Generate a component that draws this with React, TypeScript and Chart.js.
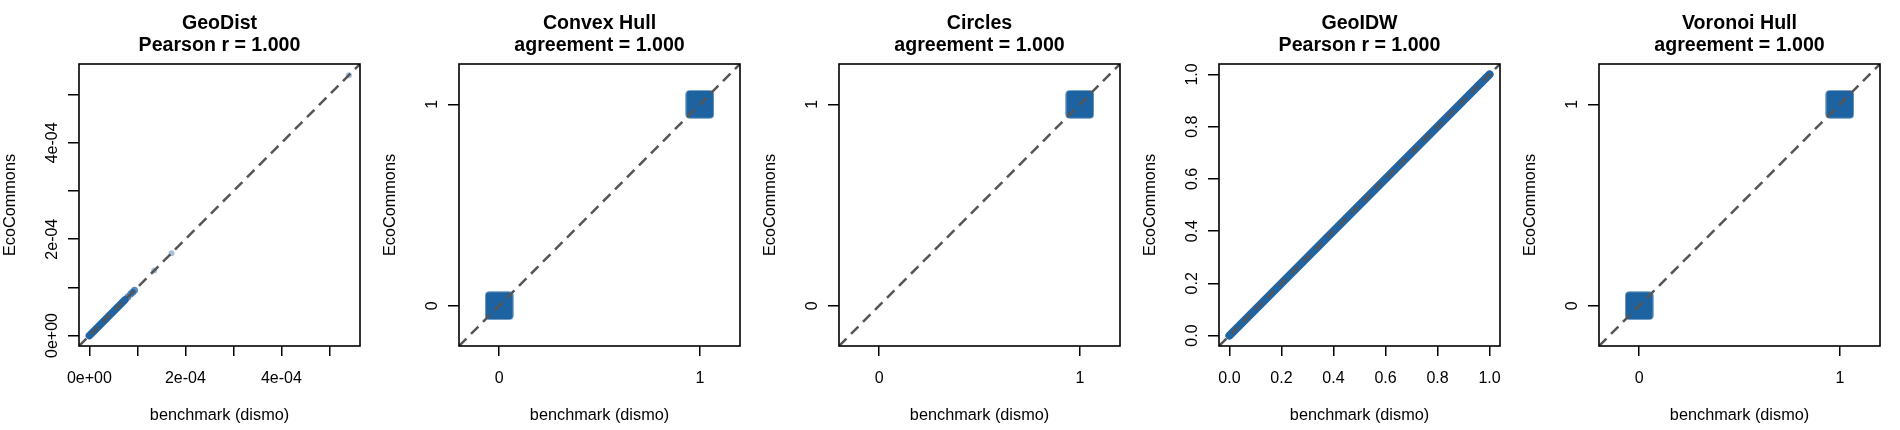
import React, { useEffect, useRef } from "react";
import { Chart, registerables } from "chart.js";

Chart.register(...registerables);

// ---------- text ----------
const panelTitles = ["GeoDist", "Convex Hull", "Circles", "GeoIDW", "Voronoi Hull"];
const panelStats = [
  "Pearson r = 1.000",
  "agreement = 1.000",
  "agreement = 1.000",
  "Pearson r = 1.000",
  "agreement = 1.000",
];
const xAxisTitle = "benchmark (dismo)";
const yAxisTitle = "EcoCommons";

// ---------- GeoDist (continuous) ----------
const geoDistRange = [-0.0000217, 0.0005637];
const geoDistTicks = [0, 0.0001, 0.0002, 0.0003, 0.0004, 0.0005];
const geoDistTickLabels = ["0e+00", "", "2e-04", "", "4e-04", ""];
const geoDistBandX = [0, 0.000074]; // extent of the dense cloud
const geoDistMidX = [0.00008, 0.000086, 0.00009, 0.000094];
const geoDistSparseX = [0.000135, 0.000171, 0.0005405];

// ---------- binary panels ----------
const binaryRange = [-0.2, 1.2];
const binaryTicks = [0, 1];
const binaryTickLabels = ["0", "1"];
const convexHullClasses = [0, 1];
const circlesClasses = [1];
const voronoiHullClasses = [0, 1];

// ---------- GeoIDW (continuous) ----------
const geoIdwRange = [-0.04, 1.04];
const geoIdwTicks = [0, 0.2, 0.4, 0.6, 0.8, 1.0];
const geoIdwTickLabels = ["0.0", "0.2", "0.4", "0.6", "0.8", "1.0"];
const geoIdwBandX = [0, 1];

// ---------- styling ----------
const FONT = "'Liberation Sans', Arial, Helvetica, sans-serif";
const BLUE = "#2064a3";
const SQUARE_BLUE = "#1e63a1";
const REF_GREY = "#555555";
const PANEL_W = 380;
const PANEL_H = 430;

Chart.defaults.font.family = FONT;
Chart.defaults.color = "#000";

function makeSquare(): HTMLCanvasElement {
  const c = document.createElement("canvas");
  c.width = 29;
  c.height = 29;
  const g = c.getContext("2d")!;
  g.fillStyle = SQUARE_BLUE;
  g.beginPath();
  (g as any).roundRect(0.5, 0.5, 28, 28, 4);
  g.fill();
  return c;
}

type PanelSpec = {
  title: string;
  stat: string;
  range: number[];
  ticks: number[];
  tickLabels: string[];
  datasets: any[];
};

function refLine(range: number[]) {
  return {
    type: "line",
    data: [
      { x: range[0], y: range[0] },
      { x: range[1], y: range[1] },
    ],
    borderColor: REF_GREY,
    borderWidth: 2.5,
    borderDash: [10.5, 6.5],
    pointRadius: 0,
    fill: false,
    clip: 0,
  };
}

function bandLine(xs: number[], width: number) {
  return {
    type: "line",
    data: xs.map((v) => ({ x: v, y: v })),
    borderColor: BLUE,
    borderWidth: width,
    borderCapStyle: "round",
    pointRadius: 0,
    fill: false,
    clip: 0,
  };
}

function pointSet(xs: number[], color: string, r: number) {
  return {
    type: "scatter",
    data: xs.map((v) => ({ x: v, y: v })),
    backgroundColor: color,
    borderWidth: 0,
    pointRadius: r,
    clip: 0,
  };
}

function squareSet(classes: number[], img: HTMLCanvasElement) {
  return {
    type: "scatter",
    data: classes.map((v) => ({ x: v, y: v })),
    pointStyle: img,
    pointRadius: 14,
    backgroundColor: SQUARE_BLUE,
    borderWidth: 0,
    clip: 0,
  };
}

const framePlugin = {
  id: "frameAndYLabels",
  afterDraw(chart: any, _args: any, opts: any) {
    const { ctx, chartArea } = chart;
    const ys = chart.scales.y;
    ctx.save();
    ctx.strokeStyle = "#000";
    ctx.lineWidth = 1.6;
    ctx.strokeRect(
      chartArea.left,
      chartArea.top,
      chartArea.right - chartArea.left,
      chartArea.bottom - chartArea.top
    );
    ctx.fillStyle = "#000";
    ctx.font = `16px ${FONT}`;
    ctx.textAlign = "center";
    ctx.textBaseline = "alphabetic";
    const vals: number[] = opts.values;
    const labs: string[] = opts.labels;
    vals.forEach((v, i) => {
      if (!labs[i]) return;
      const py = ys.getPixelForValue(v);
      ctx.save();
      ctx.translate(57, py);
      ctx.rotate(-Math.PI / 2);
      ctx.fillText(labs[i], 0, 0);
      ctx.restore();
    });
    ctx.restore();
  },
};

function Panel({ spec }: { spec: PanelSpec }) {
  const ref = useRef<HTMLCanvasElement | null>(null);
  useEffect(() => {
    if (!ref.current) return;
    const { range, ticks, tickLabels } = spec;
    const setTicks = (scale: any) => {
      scale.ticks = ticks.map((v) => ({ value: v }));
    };
    const chart = new Chart(ref.current, {
      type: "scatter",
      data: { datasets: spec.datasets },
      plugins: [framePlugin],
      options: {
        animation: false,
        responsive: false,
        events: [],
        layout: { padding: { left: 0, right: 20, top: 0, bottom: 0 } },
        plugins: {
          legend: { display: false },
          tooltip: { enabled: false },
          title: {
            display: true,
            text: [spec.title, spec.stat],
            color: "#000",
            fullSize: false,
            font: { size: 19.6, weight: "bold", lineHeight: 22 / 19.6, family: FONT },
            padding: { top: 13, bottom: 7 },
          },
          frameAndYLabels: { values: ticks, labels: tickLabels },
        } as any,
        scales: {
          x: {
            type: "linear",
            min: range[0],
            max: range[1],
            afterBuildTicks: setTicks,
            afterFit: (s: any) => {
              s.height = 84;
            },
            border: { display: false },
            grid: {
              display: true,
              drawOnChartArea: false,
              drawTicks: true,
              tickLength: 10,
              color: "#000",
              lineWidth: 1.5,
              tickWidth: 1.5,
            },
            ticks: {
              autoSkip: false,
              maxRotation: 0,
              minRotation: 0,
              padding: 13,
              color: "#000",
              font: { size: 16, family: FONT },
              callback: (_v: any, i: number) => tickLabels[i],
            },
            title: {
              display: true,
              text: xAxisTitle,
              color: "#000",
              font: { size: 16.3, family: FONT },
              padding: { top: 0, bottom: 4.9 },
            },
          },
          y: {
            type: "linear",
            min: range[0],
            max: range[1],
            afterBuildTicks: setTicks,
            afterFit: (s: any) => {
              s.width = 79;
            },
            border: { display: false },
            grid: {
              display: true,
              drawOnChartArea: false,
              drawTicks: true,
              tickLength: 11,
              color: "#000",
              lineWidth: 1.5,
              tickWidth: 1.5,
            },
            ticks: { display: false },
            title: {
              display: true,
              text: yAxisTitle,
              color: "#000",
              font: { size: 16.3, family: FONT },
              padding: { top: 0.5, bottom: 0 },
            },
          },
        },
      } as any,
    });
    return () => chart.destroy();
  }, [spec]);
  return (
    <canvas
      ref={ref}
      width={PANEL_W}
      height={PANEL_H}
      style={{ width: PANEL_W, height: PANEL_H, display: "block" }}
    />
  );
}

export default function App() {
  const specs = React.useMemo<PanelSpec[]>(() => {
    const sq = makeSquare();
    return [
      {
        title: panelTitles[0],
        stat: panelStats[0],
        range: geoDistRange,
        ticks: geoDistTicks,
        tickLabels: geoDistTickLabels,
        datasets: [
          refLine(geoDistRange),
          bandLine(geoDistBandX, 7.5),
          pointSet(geoDistMidX, "rgba(32,100,163,0.75)", 3.5),
          pointSet(geoDistSparseX, "rgba(32,100,163,0.4)", 3),
        ],
      },
      {
        title: panelTitles[1],
        stat: panelStats[1],
        range: binaryRange,
        ticks: binaryTicks,
        tickLabels: binaryTickLabels,
        datasets: [refLine(binaryRange), squareSet(convexHullClasses, sq)],
      },
      {
        title: panelTitles[2],
        stat: panelStats[2],
        range: binaryRange,
        ticks: binaryTicks,
        tickLabels: binaryTickLabels,
        datasets: [refLine(binaryRange), squareSet(circlesClasses, sq)],
      },
      {
        title: panelTitles[3],
        stat: panelStats[3],
        range: geoIdwRange,
        ticks: geoIdwTicks,
        tickLabels: geoIdwTickLabels,
        datasets: [refLine(geoIdwRange), bandLine(geoIdwBandX, 8)],
      },
      {
        title: panelTitles[4],
        stat: panelStats[4],
        range: binaryRange,
        ticks: binaryTicks,
        tickLabels: binaryTickLabels,
        datasets: [refLine(binaryRange), squareSet(voronoiHullClasses, sq)],
      },
    ];
  }, []);
  return (
    <div
      style={{
        position: "absolute",
        left: 0,
        top: 0,
        width: 1900,
        height: 430,
        display: "flex",
        background: "#fff",
      }}
    >
      {specs.map((s, i) => (
        <Panel key={i} spec={s} />
      ))}
    </div>
  );
}
